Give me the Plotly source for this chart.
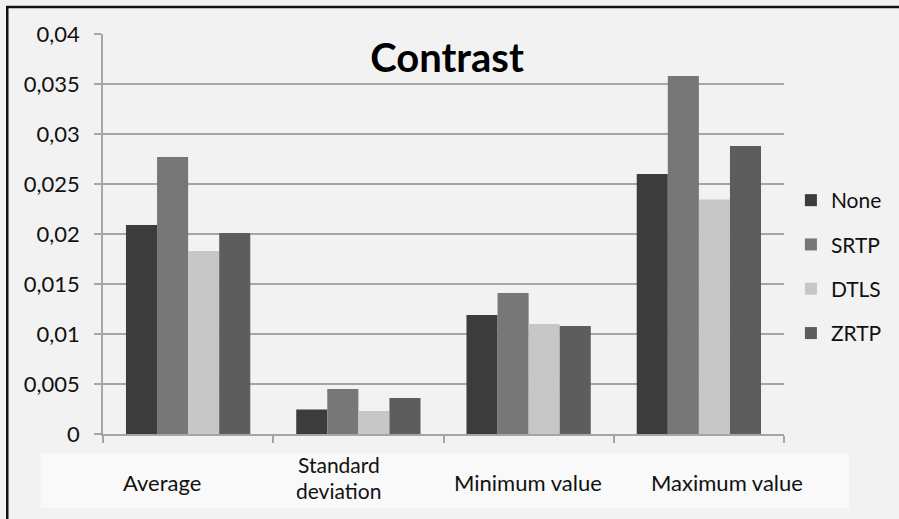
import plotly.graph_objects as go

# Contrast statistics per protection scheme
categories = ["Average", "Standard deviation", "Minimum value", "Maximum value"]
none_vals = [0.0209, 0.00245, 0.0119, 0.0260]
srtp_vals = [0.0277, 0.0045, 0.0141, 0.0358]
dtls_vals = [0.0183, 0.0023, 0.0110, 0.02345]
zrtp_vals = [0.0201, 0.0036, 0.0108, 0.0288]

series = [
    ("None", none_vals, "#3c3c3c"),
    ("SRTP", srtp_vals, "#777777"),
    ("DTLS", dtls_vals, "#c7c7c7"),
    ("ZRTP", zrtp_vals, "#5d5d5d"),
]

W, H = 899, 519
ML, MR, MT, MB = 103, 106, 34, 85
PW, PH = W - ML - MR, H - MT - MB

def px_x(x):
    return (x - ML) / PW

def px_y(y):
    return (H - MB - y) / PH

FONT = "Lato"
GRID = "#a5a5a5"

fig = go.Figure()
for i, (name, vals, color) in enumerate(series):
    fig.add_trace(go.Bar(
        x=categories, y=vals, name=name,
        marker=dict(color=color, line=dict(width=0)),
        legendgroup=f"g{i}",
    ))

# category label band below the axis
fig.add_shape(type="rect", xref="paper", yref="paper",
              x0=px_x(40), x1=px_x(859), y0=px_y(508), y1=px_y(453),
              fillcolor="#f9f9f9", line=dict(width=0), layer="below")
# frame edges
fig.add_shape(type="line", xref="paper", yref="paper",
              x0=px_x(6), x1=px_x(6), y0=px_y(6), y1=px_y(530),
              line=dict(color="#111111", width=2.5))
fig.add_shape(type="line", xref="paper", yref="paper",
              x0=px_x(5), x1=px_x(930), y0=px_y(7), y1=px_y(7),
              line=dict(color="#111111", width=2.5))

# category labels
label_pos = [
    ("Average", 163, 482, 22),
    ("Standard", 342, 465, 21),
    ("deviation", 342, 490, 21),
    ("Minimum value", 534, 482, 22),
    ("Maximum value", 735, 482, 22),
]
for text, x, y, size in label_pos:
    fig.add_annotation(text=text, xref="paper", yref="paper",
                       x=px_x(x), y=px_y(y), xanchor="center", yanchor="middle",
                       showarrow=False, borderpad=0,
                       font=dict(family=FONT, size=size, color="#111111"))

fig.update_layout(
    width=W, height=H,
    margin=dict(l=ML, r=MR, t=MT, b=MB, pad=0),
    paper_bgcolor="#f2f2f2", plot_bgcolor="#f2f2f2",
    separators=",.",
    barmode="group", bargap=0.27, bargroupgap=0,
    font=dict(family=FONT, size=21, color="#111111"),
    title=dict(text="<b>Contrast</b>", x=447 / W, y=1 - 58 / H,
               xanchor="center", yanchor="middle",
               font=dict(family=FONT, size=40, color="#000000")),
    legend=dict(x=px_x(800), y=px_y(180), xanchor="left", yanchor="top",
                bgcolor="rgba(0,0,0,0)", tracegroupgap=14,
                font=dict(family=FONT, size=21, color="#111111"),
                itemwidth=30),
    showlegend=True,
)
fig.update_xaxes(showticklabels=False, showline=True, linecolor=GRID, linewidth=1.5,
                 ticks="outside", tickson="boundaries", ticklen=7, tickcolor=GRID,
                 tickwidth=1.5, showgrid=False, fixedrange=True)
fig.update_yaxes(range=[0, 0.04], dtick=0.005, tickformat="~g",
                 showline=True, linecolor=GRID, linewidth=1.5,
                 ticks="outside", ticklen=7, tickcolor=GRID, tickwidth=1.5,
                 showgrid=True, gridcolor=GRID, gridwidth=1.5, zeroline=False,
                 ticklabelstandoff=10,
                 tickfont=dict(family=FONT, size=22, color="#111111"))

fig.write_html("out.html", config={"displayModeBar": False})
